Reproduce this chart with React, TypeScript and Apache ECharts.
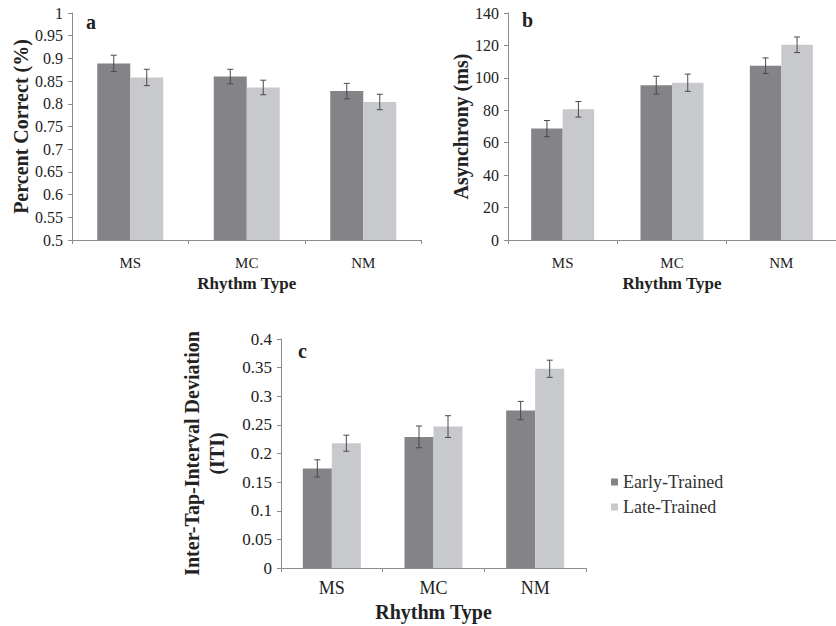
import React, { useEffect, useRef } from "react";
import * as echarts from "echarts";

const categories = ["MS", "MC", "NM"];
const seriesNames = ["Early-Trained", "Late-Trained"];

const aEarly = [0.889, 0.86, 0.828];
const aEarlyErr = [0.018, 0.016, 0.017];
const aLate = [0.858, 0.836, 0.804];
const aLateErr = [0.018, 0.016, 0.017];

const bEarly = [68.7, 95.5, 107.5];
const bEarlyErr = [5, 5.5, 4.8];
const bLate = [80.6, 97, 120.4];
const bLateErr = [4.8, 5.3, 4.8];

const cEarly = [0.174, 0.229, 0.275];
const cEarlyErr = [0.015, 0.019, 0.016];
const cLate = [0.218, 0.247, 0.348];
const cLateErr = [0.014, 0.019, 0.015];

const DARK = "#838388";
const LIGHT = "#c8c9cc";
const ERR = "#4a4a4a";
const AXIS = "#8c8c8c";
const TEXT = "#222";
const FONT = "'Liberation Serif', 'Times New Roman', serif";

function errData(vals: number[], errs: number[]) {
  return vals.map((v, i) => [i, v - errs[i], v + errs[i]]);
}

function errSeries(idx: number, vals: number[], errs: number[], offset: number) {
  return {
    type: "custom",
    xAxisIndex: idx,
    yAxisIndex: idx,
    silent: true,
    z: 5,
    encode: { x: 0, y: [1, 2] },
    data: errData(vals, errs),
    renderItem: (params: any, api: any) => {
      const x = api.value(0);
      const lo = api.coord([x, api.value(1)]);
      const hi = api.coord([x, api.value(2)]);
      const cx = lo[0] + offset;
      const cap = 3;
      const style = { stroke: ERR, lineWidth: 1 };
      return {
        type: "group",
        children: [
          { type: "line", shape: { x1: cx, y1: hi[1], x2: cx, y2: lo[1] }, style },
          { type: "line", shape: { x1: cx - cap, y1: hi[1], x2: cx + cap, y2: hi[1] }, style },
          { type: "line", shape: { x1: cx - cap, y1: lo[1], x2: cx + cap, y2: lo[1] }, style },
        ],
      };
    },
  };
}

function barSeries(idx: number, name: string, vals: number[], color: string, w: number) {
  return {
    type: "bar",
    name,
    xAxisIndex: idx,
    yAxisIndex: idx,
    data: vals,
    barWidth: w,
    barGap: "0%",
    itemStyle: { color },
  };
}

function xAxis(idx: number, labelSize: number, nameSize: number, labelMargin: number, nameGap: number) {
  return {
    type: "category",
    gridIndex: idx,
    data: categories,
    name: "Rhythm Type",
    nameLocation: "middle",
    nameGap,
    nameTextStyle: { fontFamily: FONT, fontWeight: "bold", fontSize: nameSize, color: TEXT },
    axisLine: { lineStyle: { color: AXIS, width: 1 } },
    axisTick: { show: true, length: 4, lineStyle: { color: AXIS } },
    axisLabel: { fontFamily: FONT, fontSize: labelSize, color: TEXT, margin: labelMargin },
    splitLine: { show: false },
  };
}

function yAxis(
  idx: number,
  name: string,
  min: number,
  max: number,
  interval: number,
  labelSize: number,
  nameSize: number,
  nameGap: number,
  lineHeight?: number
) {
  return {
    type: "value",
    gridIndex: idx,
    min,
    max,
    interval,
    name,
    nameLocation: "middle",
    nameRotate: 90,
    nameGap,
    nameTextStyle: {
      fontFamily: FONT,
      fontWeight: "bold",
      fontSize: nameSize,
      color: TEXT,
      lineHeight: lineHeight || nameSize,
    },
    axisLine: { show: true, lineStyle: { color: AXIS, width: 1 } },
    axisTick: { show: true, length: 4, lineStyle: { color: AXIS } },
    axisLabel: {
      fontFamily: FONT,
      fontSize: labelSize,
      color: TEXT,
      margin: 9,
      formatter: (v: number) => String(+v.toFixed(2)),
    },
    splitLine: { show: false },
  };
}

export default function App() {
  const ref = useRef<HTMLDivElement>(null);
  useEffect(() => {
    if (!ref.current) return;
    const chart = echarts.init(ref.current, undefined, { renderer: "svg" });
    const wA = 33;
    const wB = 31.5;
    const wC = 29;
    chart.setOption({
      animation: false,
      backgroundColor: "#fff",
      grid: [
        { left: 72, top: 13, width: 349.5, height: 227 },
        { left: 508, top: 13, width: 333, height: 227 },
        { left: 281, top: 339, width: 305, height: 229 },
      ],
      xAxis: [
        xAxis(0, 15, 17, 15, 35),
        xAxis(1, 15, 17, 15, 35),
        xAxis(2, 18, 20, 11, 34),
      ],
      yAxis: [
        yAxis(0, "Percent Correct (%)", 0.5, 1, 0.05, 16, 20, 41),
        yAxis(1, "Asynchrony (ms)", 0, 140, 20, 16, 20, 31),
        yAxis(2, "Inter-Tap-Interval Deviation\n(ITI)", 0, 0.4, 0.05, 17, 20, 52, 25),
      ],
      legend: {
        orient: "vertical",
        left: 606,
        top: 468,
        itemWidth: 7,
        itemHeight: 7,
        itemGap: 7,
        icon: "rect",
        data: seriesNames,
        textStyle: { fontFamily: FONT, fontSize: 18, color: "#333" },
      },
      graphic: [
        { type: "text", left: 86, top: 12, style: { text: "a", font: `bold 20px ${FONT}`, fill: TEXT } },
        { type: "text", left: 522, top: 10, style: { text: "b", font: `bold 20px ${FONT}`, fill: TEXT } },
        { type: "text", left: 298, top: 341, style: { text: "c", font: `bold 20px ${FONT}`, fill: TEXT } },
      ],
      series: [
        barSeries(0, seriesNames[0], aEarly, DARK, wA),
        barSeries(0, seriesNames[1], aLate, LIGHT, wA),
        barSeries(1, seriesNames[0], bEarly, DARK, wB),
        barSeries(1, seriesNames[1], bLate, LIGHT, wB),
        barSeries(2, seriesNames[0], cEarly, DARK, wC),
        barSeries(2, seriesNames[1], cLate, LIGHT, wC),
        errSeries(0, aEarly, aEarlyErr, -wA / 2),
        errSeries(0, aLate, aLateErr, wA / 2),
        errSeries(1, bEarly, bEarlyErr, -wB / 2),
        errSeries(1, bLate, bLateErr, wB / 2),
        errSeries(2, cEarly, cEarlyErr, -wC / 2),
        errSeries(2, cLate, cLateErr, wC / 2),
      ],
    });
    return () => chart.dispose();
  }, []);
  return (
    <div
      ref={ref}
      style={{ position: "fixed", left: 0, top: 0, width: 836, height: 626, background: "#fff" }}
    />
  );
}
